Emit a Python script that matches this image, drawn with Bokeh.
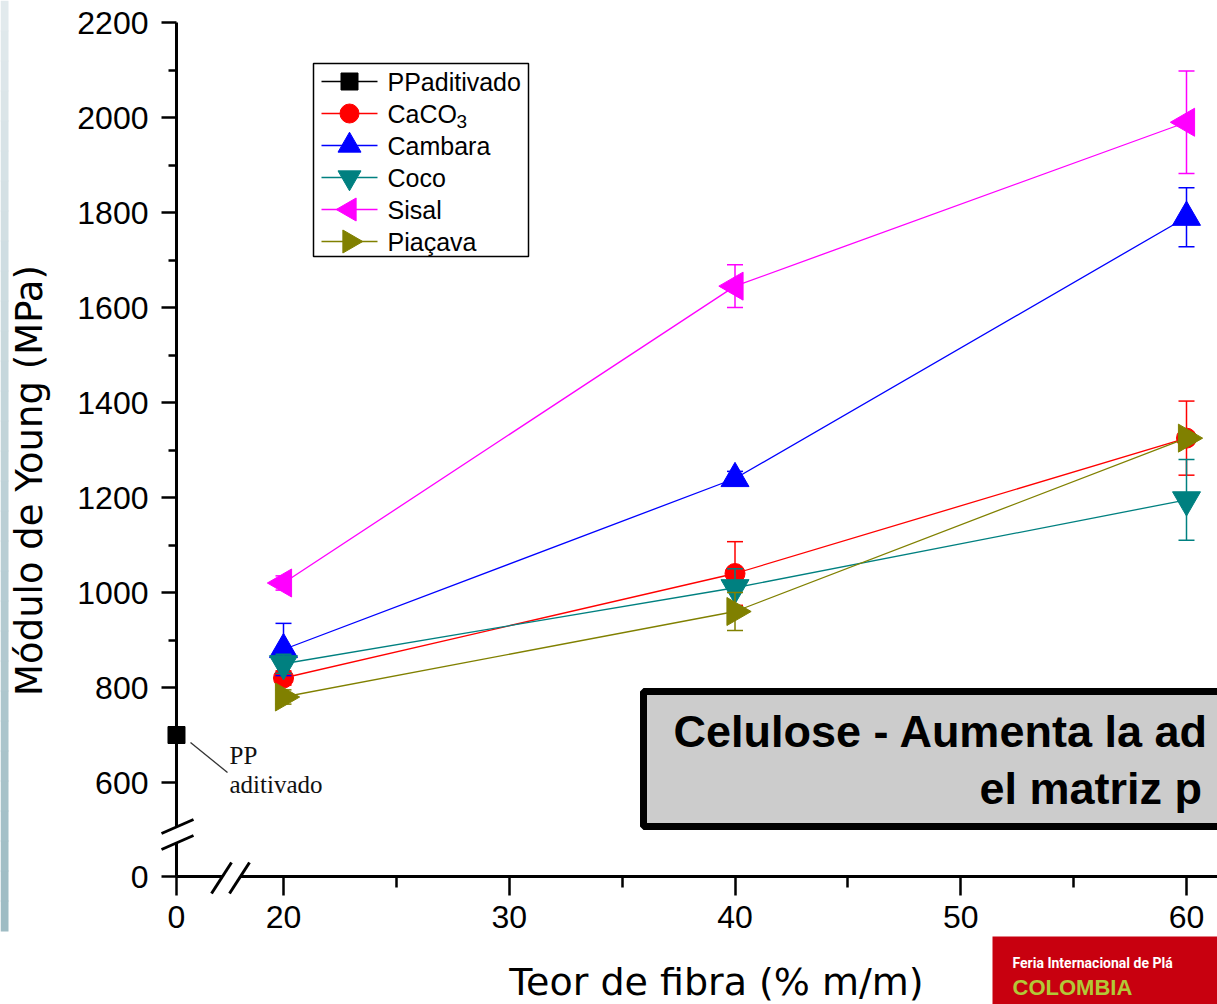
import numpy as np
from bokeh.plotting import figure
from bokeh.models import Range1d, FixedTicker
from bokeh.core.properties import value
from bokeh.embed import file_html
from bokeh.resources import INLINE

# ---------------- data ----------------
fiber_content = [20, 40, 60]
pp_content = [0]
pp_modulus = [700]
caco3_modulus = [820, 1040, 1325]
caco3_error = [15, 67, 78]
cambara_modulus = [880, 1240, 1790]
cambara_error = [55, 15, 62]
coco_modulus = [850, 1010, 1195]
coco_error = [20, 40, 85]
sisal_modulus = [1020, 1645, 1990]
sisal_error = [15, 45, 108]
piacava_modulus = [780, 960, 1325]
piacava_error = [15, 40, 10]

x_major_ticks = [0, 20, 30, 40, 50, 60]
x_minor_ticks = [25, 35, 45, 55]
y_major_ticks = [0, 600, 800, 1000, 1200, 1400, 1600, 1800, 2000, 2200]
y_minor_ticks = [700, 900, 1100, 1300, 1500, 1700, 1900, 2100]

series_labels = ["PPaditivado", "CaCO", "Cambara", "Coco", "Sisal", "Piaçava"]
x_title = "Teor de fibra (% m/m)"
y_title = "Módulo de Young (MPa)"
note_lines = ["Celulose - Aumenta la ad", "el matriz p"]
pp_note = ["PP", "aditivado"]
logo_lines = ["Feria Internacional de Plá", "COLOMBIA"]

# ---------------- layout (pixel anchors) ----------------
W, H = 1217, 1004
PX20, PX60 = 283, 1186
PY2200, PY600 = 22, 782
kx = (PX60 - PX20) / 40.0
ky = (PY600 - PY2200) / 1600.0
XS = 20 - PX20 / kx
XE = XS + W / kx
YE = 2200 + PY2200 / ky
YS = YE - H / ky


def px2x(px):
    return XS + px / kx


def py2y(py):
    return YE - py / ky


X_ZERO = round(px2x(176), 3)
Y_ZERO = float(round(py2y(876)))


def mx(v):
    return X_ZERO if v == 0 else v


def my(v):
    return Y_ZERO if v == 0 else v


p = figure(width=W, height=H, x_range=Range1d(XS, XE), y_range=Range1d(YS, YE),
           output_backend="svg", toolbar_location=None, min_border=0,
           background_fill_color="white", border_fill_color="white")
p.outline_line_color = None
p.xgrid.visible = False
p.ygrid.visible = False

# ---- left decorative strip (slide background) ----
n_bands = 31
c_top = np.array([0xe2, 0xea, 0xed])
c_bot = np.array([0x9e, 0xbc, 0xc4])
band_cols = []
tops, bots = [], []
for i in range(n_bands):
    t = i / (n_bands - 1)
    c = (c_top * (1 - t) + c_bot * t).astype(int)
    band_cols.append("#%02x%02x%02x" % tuple(c))
    tops.append(py2y(i * 30))
    bots.append(py2y(min((i + 1) * 30 + 1, 932)))
p.quad(left=[px2x(0)] * n_bands, right=[px2x(8)] * n_bands, top=tops, bottom=bots,
       fill_color=band_cols, line_color=None)

# ---- axes ----
p.xaxis.fixed_location = Y_ZERO
p.yaxis.fixed_location = X_ZERO
p.xaxis.ticker = FixedTicker(ticks=[mx(t) for t in x_major_ticks], minor_ticks=x_minor_ticks)
p.yaxis.ticker = FixedTicker(ticks=[my(t) for t in y_major_ticks], minor_ticks=y_minor_ticks)
p.xaxis.major_label_overrides = {X_ZERO: "0"}
p.yaxis.major_label_overrides = {Y_ZERO: "0"}
for ax in (p.xaxis[0], p.yaxis[0]):
    ax.axis_line_color = None
    ax.major_tick_line_color = "black"
    ax.minor_tick_line_color = "black"
    ax.major_tick_line_width = 2.5
    ax.minor_tick_line_width = 2.5
    ax.major_tick_in = 0
    ax.minor_tick_in = 0
    ax.major_label_text_font = "Liberation Sans"
    ax.major_label_text_font_size = "32px"
    ax.major_label_text_color = "black"
p.xaxis.major_tick_out = 19
p.xaxis.minor_tick_out = 11
p.yaxis.major_tick_out = 15
p.yaxis.minor_tick_out = 8
p.xaxis.major_label_standoff = 10
p.yaxis.major_label_standoff = 13

# hand-drawn axis lines with break marks
axis_x0 = [X_ZERO, X_ZERO, X_ZERO, px2x(240)]
axis_x1 = [X_ZERO, X_ZERO, px2x(222), px2x(1230)]
axis_y0 = [Y_ZERO, py2y(826), Y_ZERO, Y_ZERO]
axis_y1 = [py2y(842), 2200, Y_ZERO, Y_ZERO]
p.segment(x0=axis_x0, y0=axis_y0, x1=axis_x1, y1=axis_y1, line_color="black", line_width=3)
brk_x0 = [px2x(161), px2x(161), px2x(211), px2x(229)]
brk_y0 = [py2y(833), py2y(849), py2y(893), py2y(893)]
brk_x1 = [px2x(193), px2x(193), px2x(231), px2x(249)]
brk_y1 = [py2y(819), py2y(835), py2y(862), py2y(862)]
p.segment(x0=brk_x0, y0=brk_y0, x1=brk_x1, y1=brk_y1, line_color="black", line_width=3)

# axis titles (anchored on the middle of the capitals)
p.text(x=[px2x(29)], y=[py2y(480)], text=[y_title], angle=np.pi / 2,
       text_font=value("DejaVu Sans"), text_font_size="37px", text_color="black",
       text_align="center", text_baseline="middle")
p.text(x=[px2x(716)], y=[py2y(981)], text=[x_title],
       text_font=value("DejaVu Sans"), text_font_size="38px", text_color="black",
       text_align="center", text_baseline="middle")

# ---- data series ----
colors = ["#000000", "#ff0000", "#0000ff", "#008080", "#ff00ff", "#808000"]
markers = ["square", "circle", "triangle", "inverted_triangle", "triangle", "triangle"]
angles = [0, 0, 0, 0, np.pi / 2, -np.pi / 2]
sizes = [17, 20, 28, 28, 28, 28]
legend_sizes = [17, 19, 23, 23, 23, 23]

fiber_x = [mx(v) for v in fiber_content]
series = [
    (caco3_modulus, caco3_error),
    (cambara_modulus, cambara_error),
    (coco_modulus, coco_error),
    (sisal_modulus, sisal_error),
    (piacava_modulus, piacava_error),
]

# PP aditivado (single point at 0 %)
p.scatter(x=[mx(v) for v in pp_content], y=pp_modulus, marker="square", size=sizes[0],
          fill_color=colors[0], line_color=colors[0])

for k, (vals, errs) in enumerate(series, start=1):
    c = colors[k]
    upper = [v + e for v, e in zip(vals, errs)]
    lower = [v - e for v, e in zip(vals, errs)]
    p.line(x=fiber_x, y=vals, line_color=c, line_width=1.3)
    p.segment(x0=fiber_x, y0=lower, x1=fiber_x, y1=upper, line_color=c, line_width=1.5)
    p.scatter(x=fiber_x + fiber_x, y=upper + lower, marker="dash", size=16,
              line_color=c, line_width=1.5)
    p.scatter(x=fiber_x, y=vals, marker=markers[k], size=sizes[k], angle=angles[k],
              fill_color=c, line_color=c)

# PP note with leader line
p.segment(x0=[px2x(190)], y0=[py2y(742)], x1=[px2x(227)], y1=[py2y(772)],
          line_color="#333333", line_width=1.3)
p.text(x=[px2x(229), px2x(229)], y=[py2y(755), py2y(784)], text=pp_note,
       text_font=value("Liberation Serif"), text_font_size="25px", text_color="#111111",
       text_align="left", text_baseline="middle")

# ---- legend ----
p.quad(left=[px2x(313)], right=[px2x(528)], top=[py2y(63)], bottom=[py2y(256)],
       fill_color="white", line_color="black", line_width=1.5)
row_y = [py2y(81 + 32 * i) for i in range(6)]
for i in range(6):
    p.segment(x0=[px2x(321)], y0=[row_y[i]], x1=[px2x(377)], y1=[row_y[i]],
              line_color=colors[i], line_width=1.5)
    p.scatter(x=[px2x(349)], y=[row_y[i]], marker=markers[i], size=legend_sizes[i],
              angle=angles[i], fill_color=colors[i], line_color=colors[i])
p.text(x=[px2x(387)] * 6, y=row_y, text=series_labels,
       text_font=value("Liberation Sans"), text_font_size="25px", text_color="black",
       text_align="left", text_baseline="middle")
p.text(x=[px2x(456)], y=[py2y(121)], text=["3"],
       text_font=value("Liberation Sans"), text_font_size="19px", text_color="black",
       text_align="left", text_baseline="middle")

# ---- note box ----
p.quad(left=[px2x(643)], right=[px2x(1240)], top=[py2y(691)], bottom=[py2y(826)],
       fill_color="#cccccc", line_color="black", line_width=7)
p.text(x=[px2x(673), px2x(979)], y=[py2y(731), py2y(788)], text=note_lines,
       text_font=value("Liberation Sans"), text_font_style="bold", text_font_size="45px",
       text_color="black", text_align="left", text_baseline="middle")

# ---- logo ----
p.quad(left=[px2x(992)], right=[px2x(1240)], top=[py2y(936)], bottom=[py2y(1010)],
       fill_color="#c8000f", line_color=None)
p.text(x=[px2x(1012)], y=[py2y(962)], text=[logo_lines[0]],
       text_font=value("Roboto"), text_font_style="bold", text_font_size="14px",
       text_color="white", text_align="left", text_baseline="middle")
p.text(x=[px2x(1012)], y=[py2y(987)], text=[logo_lines[1]],
       text_font=value("Liberation Sans"), text_font_style="bold", text_font_size="22px",
       text_color="#b2c837", text_align="left", text_baseline="middle")

open("out.html", "w").write(file_html(p, INLINE))
